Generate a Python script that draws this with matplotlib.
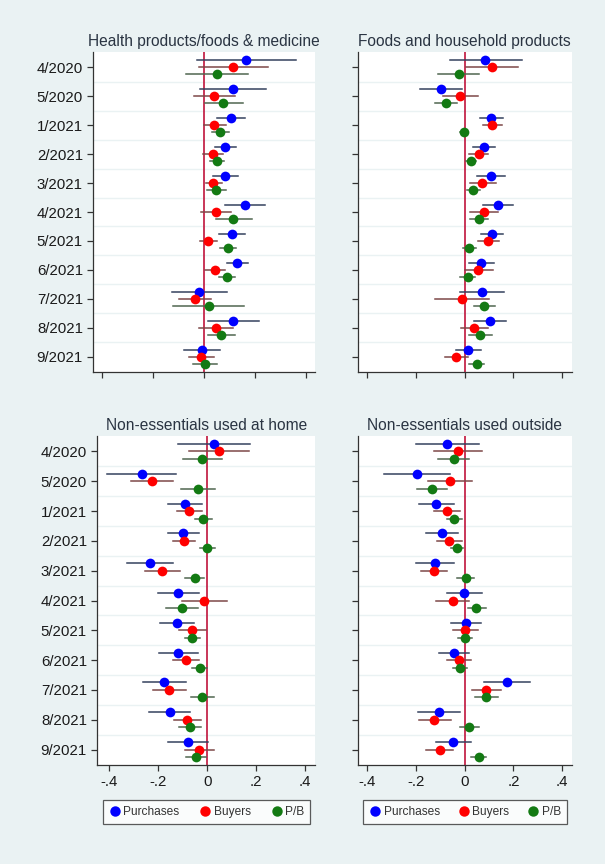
import matplotlib
matplotlib.use("Agg")
import matplotlib.pyplot as plt
from matplotlib.lines import Line2D

plt.rcParams['font.family'] = ['Liberation Sans', 'DejaVu Sans']

months = ['4/2020', '5/2020', '1/2021', '2/2021', '3/2021', '4/2021',
          '5/2021', '6/2021', '7/2021', '8/2021', '9/2021']
series_names = ['Purchases', 'Buyers', 'P/B']
xticks = [-0.4, -0.2, 0, 0.2, 0.4]
xticklabels = ['-.4', '-.2', '0', '.2', '.4']

# Health products/foods & medicine
hp_pur = [0.165, 0.115, 0.105, 0.084, 0.081, 0.161, 0.112, 0.131, -0.018, 0.115, -0.009]
hp_pur_ci = [(-0.029, 0.362), (-0.016, 0.243), (0.052, 0.163), (0.043, 0.126), (0.034, 0.133),
             (0.084, 0.241), (0.060, 0.161), (0.092, 0.174), (-0.126, 0.092), (0.014, 0.217),
             (-0.079, 0.063)]
hp_buy = [0.115, 0.041, 0.041, 0.034, 0.037, 0.047, 0.017, 0.043, -0.035, 0.047, -0.012]
hp_buy_ci = [(-0.020, 0.250), (-0.038, 0.122), (0.000, 0.087), (-0.005, 0.076), (0.007, 0.070),
             (-0.012, 0.108), (-0.016, 0.052), (0.005, 0.081), (-0.098, 0.026), (-0.018, 0.115),
             (-0.058, 0.038)]
hp_pb = [0.051, 0.076, 0.064, 0.050, 0.047, 0.115, 0.094, 0.089, 0.020, 0.067, 0.003]
hp_pb_ci = [(-0.071, 0.174), (0.003, 0.152), (0.033, 0.100), (0.024, 0.079), (0.010, 0.085),
            (0.046, 0.188), (0.063, 0.126), (0.058, 0.123), (-0.121, 0.157), (0.016, 0.123),
            (-0.045, 0.050)]

# Foods and household products
fh_pur = [0.085, -0.096, 0.109, 0.078, 0.107, 0.137, 0.112, 0.068, 0.070, 0.104, 0.015]
fh_pur_ci = [(-0.060, 0.235), (-0.184, -0.010), (0.064, 0.157), (0.033, 0.126), (0.049, 0.166),
             (0.074, 0.200), (0.067, 0.157), (0.016, 0.119), (-0.021, 0.160), (0.040, 0.170),
             (-0.034, 0.066)]
fh_buy = [0.112, -0.018, 0.113, 0.057, 0.072, 0.079, 0.094, 0.056, -0.010, 0.040, -0.034]
fh_buy_ci = [(0.004, 0.218), (-0.088, 0.053), (0.076, 0.153), (0.019, 0.096), (0.022, 0.127),
             (0.022, 0.138), (0.053, 0.141), (0.001, 0.115), (-0.121, 0.100), (-0.014, 0.096),
             (-0.080, 0.014)]
fh_pb = [-0.023, -0.077, -0.004, 0.025, 0.034, 0.059, 0.019, 0.012, 0.081, 0.064, 0.049]
fh_pb_ci = [(-0.108, 0.060), (-0.121, -0.033), (-0.019, 0.012), (0.004, 0.046), (0.008, 0.062),
            (0.023, 0.094), (-0.008, 0.045), (-0.018, 0.042), (0.038, 0.124), (0.019, 0.111),
            (0.019, 0.079)]

# Non-essentials used at home
nh_pur = [0.029, -0.267, -0.090, -0.099, -0.235, -0.118, -0.124, -0.120, -0.175, -0.154, -0.078]
nh_pur_ci = [(-0.121, 0.174), (-0.408, -0.128), (-0.159, -0.022), (-0.162, -0.033),
             (-0.328, -0.139), (-0.201, -0.035), (-0.192, -0.056), (-0.198, -0.039),
             (-0.264, -0.087), (-0.239, -0.069), (-0.162, 0.003)]
nh_buy = [0.049, -0.227, -0.075, -0.096, -0.184, -0.013, -0.061, -0.087, -0.155, -0.082, -0.033]
nh_buy_ci = [(-0.073, 0.171), (-0.311, -0.141), (-0.125, -0.023), (-0.141, -0.050),
             (-0.254, -0.111), (-0.105, 0.079), (-0.114, -0.007), (-0.141, -0.034),
             (-0.220, -0.088), (-0.137, -0.027), (-0.090, 0.027)]
nh_pb = [-0.023, -0.038, -0.016, 0.000, -0.050, -0.105, -0.061, -0.030, -0.020, -0.071, -0.046]
nh_pb_ci = [(-0.100, 0.059), (-0.107, 0.031), (-0.050, 0.020), (-0.030, 0.033), (-0.090, -0.013),
            (-0.169, -0.037), (-0.091, -0.030), (-0.062, -0.003), (-0.065, 0.029),
            (-0.114, -0.026), (-0.088, -0.007)]

# Non-essentials used outside
no_pur = [-0.074, -0.195, -0.117, -0.093, -0.122, -0.001, 0.004, -0.044, 0.175, -0.107, -0.047]
no_pur_ci = [(-0.201, 0.057), (-0.330, -0.060), (-0.186, -0.045), (-0.160, -0.029),
             (-0.200, -0.043), (-0.073, 0.070), (-0.057, 0.066), (-0.106, 0.019),
             (0.081, 0.268), (-0.193, -0.019), (-0.118, 0.025)]
no_buy = [-0.029, -0.062, -0.074, -0.063, -0.125, -0.049, 0.001, -0.023, 0.087, -0.125, -0.103]
no_buy_ci = [(-0.126, 0.070), (-0.152, 0.029), (-0.125, -0.019), (-0.115, -0.011),
             (-0.178, -0.071), (-0.118, 0.016), (-0.047, 0.053), (-0.074, 0.026),
             (0.029, 0.148), (-0.188, -0.058), (-0.159, -0.047)]
no_pb = [-0.045, -0.133, -0.043, -0.032, 0.004, 0.048, 0.001, -0.018, 0.089, 0.019, 0.057]
no_pb_ci = [(-0.111, 0.019), (-0.195, -0.071), (-0.074, -0.011), (-0.057, -0.005),
            (-0.030, 0.038), (0.014, 0.089), (-0.026, 0.029), (-0.047, 0.011), (0.044, 0.135),
            (-0.021, 0.057), (0.026, 0.087)]

panels = [
    ('Health products/foods & medicine', [(hp_pur, hp_pur_ci), (hp_buy, hp_buy_ci), (hp_pb, hp_pb_ci)]),
    ('Foods and household products', [(fh_pur, fh_pur_ci), (fh_buy, fh_buy_ci), (fh_pb, fh_pb_ci)]),
    ('Non-essentials used at home', [(nh_pur, nh_pur_ci), (nh_buy, nh_buy_ci), (nh_pb, nh_pb_ci)]),
    ('Non-essentials used outside', [(no_pur, no_pur_ci), (no_buy, no_buy_ci), (no_pb, no_pb_ci)]),
]

dot_colors = ['#0000ff', '#ff0000', '#137a13']
ci_colors = ['#34415e', '#7d4848', '#4f6650']
offsets = [-0.25, 0.0, 0.25]
bg = '#eaf2f3'
W, H = 605, 864

fig = plt.figure(figsize=(W / 100, H / 100), dpi=100, facecolor=bg)

# axes boxes in pixels: left, top, right, bottom
boxes = [(93.3, 52, 315, 372), (357.7, 52, 571.7, 372),
         (97.3, 436, 315, 765), (357.7, 436, 571.7, 765)]
xlims = [(-0.436, 0.437), (-0.439, 0.439), (-0.449, 0.44), (-0.439, 0.439)]

axes = []
for i, (title, data) in enumerate(panels):
    l, t, r, b = boxes[i]
    ax = fig.add_axes([l / W, 1 - b / H, (r - l) / W, (b - t) / H])
    ax.set_facecolor('white')
    axes.append(ax)

    for k in range(len(months) - 1):
        ax.axhline(k + 0.5, color=bg, lw=1.0, zorder=1)
    ax.axvline(0, color='#c0143c', lw=1.2, zorder=2)

    for j, (est, ci) in enumerate(data):
        ys = [m + offsets[j] for m in range(len(months))]
        for y, (lo, hi) in zip(ys, ci):
            ax.plot([lo, hi], [y, y], color=ci_colors[j], lw=1.1, zorder=3)
        ax.plot(est, ys, 'o', color=dot_colors[j], markersize=7,
                markeredgewidth=0, zorder=4, label=series_names[j])

    ax.set_xlim(*xlims[i])
    ax.set_ylim(len(months) - 0.48, -0.52)
    ax.set_yticks(range(len(months)))
    ax.set_xticks(xticks)
    if i % 2 == 0:
        ax.set_yticklabels(months)
    else:
        ax.set_yticklabels([])
    if i >= 2:
        ax.set_xticklabels(xticklabels)
    else:
        ax.set_xticklabels([])
    ax.tick_params(axis='both', length=4.5, width=0.9, color='#333333',
                   labelsize=10.8, labelcolor='#1a1a1a', pad=3)
    for s in ['top', 'right']:
        ax.spines[s].set_visible(False)
    for s in ['left', 'bottom']:
        ax.spines[s].set_color('#333333')
        ax.spines[s].set_linewidth(0.9)
    ax.set_title(title, fontsize=11.2, color='#2a3442', pad=4)

    if i >= 2:
        handles = [Line2D([], [], marker='o', linestyle='none', color=c,
                          markersize=7.5, markeredgewidth=0) for c in dot_colors]
        leg = ax.legend(handles, series_names, loc='lower left', ncol=3, mode='expand',
                        bbox_to_anchor=(0.026, -0.179, 0.952, 0.073), fontsize=8.6,
                        frameon=True, fancybox=False, edgecolor='#333333',
                        handletextpad=0.2, borderpad=0.5, handlelength=1.0,
                        borderaxespad=0)
        for txt in leg.get_texts():
            txt.set_color('#333333')
        leg.get_frame().set_linewidth(0.9)

fig.savefig('out.png', dpi=100, facecolor=bg)
